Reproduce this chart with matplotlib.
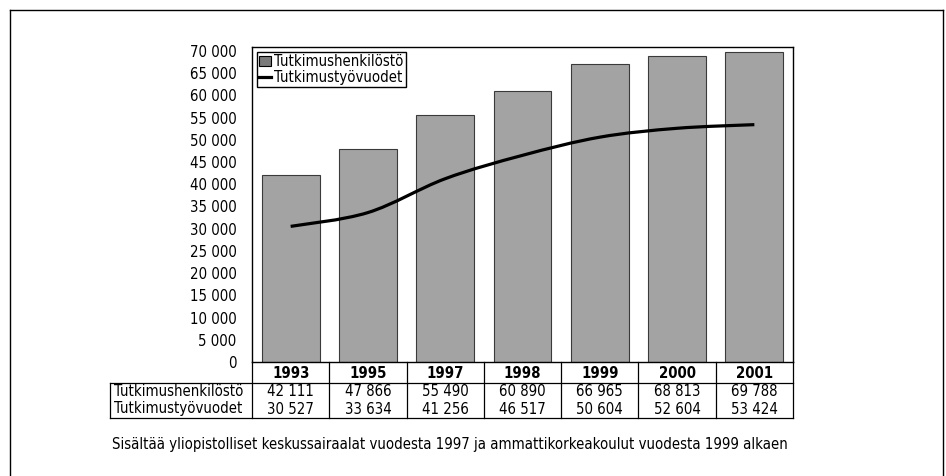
"""
Tutkimushenkilöstö ja tutkimustyövuodet 1993-2001, pylväät + käyrä + taulukko.
"""

import matplotlib
matplotlib.use("Agg")
import matplotlib.pyplot as plt
from matplotlib import font_manager
from matplotlib.path import Path
from matplotlib.patches import PathPatch, Rectangle
from matplotlib.lines import Line2D
from matplotlib.textpath import TextPath
from matplotlib.font_manager import FontProperties
import numpy as np

years = ["1993", "1995", "1997", "1998", "1999", "2000", "2001"]
henkilosto = [42111, 47866, 55490, 60890, 66965, 68813, 69788]
tyovuodet = [30527, 33634, 41256, 46517, 50604, 52604, 53424]
series_names = ["Tutkimushenkilöstö", "Tutkimustyövuodet"]
yticks = list(range(0, 70001, 5000))
footnote = ("Sisältää yliopistolliset keskussairaalat vuodesta 1997 ja "
            "ammattikorkeakoulut vuodesta 1999 alkaen")

# look for a condensed face, otherwise a narrow-ish one
family, stretch = "Liberation Sans", "normal"
for f in font_manager.fontManager.ttflist:
    nm = f.name.lower()
    if "narrow" in nm or "condensed" in nm:
        family, stretch = f.name, "normal"
        break
    if str(f.stretch) in ("condensed", "semi-condensed", "extra-condensed") \
            and f.name in ("DejaVu Sans", "Noto Sans", "Open Sans", "Roboto"):
        family, stretch = f.name, f.stretch
        break
plt.rcParams["font.family"] = [family, "DejaVu Sans"]
plt.rcParams["font.stretch"] = stretch


def width_px(s, size):
    fp = FontProperties(family=family, stretch=stretch, size=size)
    tp = TextPath((0, 0), s, prop=fp)
    return tp.get_extents().width * 100 / 72


# pick size so the row label is as wide as in the original (~128 px)
fs = min(12.5, 12 * 128 / width_px(series_names[0], 12))


def fmt(v):
    return f"{v:,}".replace(",", " ")


W, H = 946, 476
fig = plt.figure(figsize=(W / 100, H / 100), dpi=100)

# pixel geometry
left, right, top, bottom = 252, 793, 47, 362
ax = fig.add_axes([left / W, 1 - bottom / H, (right - left) / W, (bottom - top) / H])
ph = bottom - top


def ay(py):
    # figure pixel row -> axes fraction
    return (bottom - py) / ph


x = np.arange(len(years))
ax.bar(x, henkilosto, width=0.75, color="#a3a3a3", edgecolor="#3a3a3a",
       linewidth=0.8, label=series_names[0], zorder=2)

# smoothed line (Catmull-Rom as cubic bezier through the data points)
pts = np.column_stack([x, tyovuodet]).astype(float)
verts = [tuple(pts[0])]
codes = [Path.MOVETO]
for i in range(len(pts) - 1):
    p0 = pts[i - 1] if i > 0 else pts[i]
    p1, p2 = pts[i], pts[i + 1]
    p3 = pts[i + 2] if i + 2 < len(pts) else pts[i + 1]
    c1 = p1 + (p2 - p0) / 6
    c2 = p2 - (p3 - p1) / 6
    verts += [tuple(c1), tuple(c2), tuple(p2)]
    codes += [Path.CURVE4] * 3
ax.add_patch(PathPatch(Path(verts, codes), facecolor="none", edgecolor="black",
                       linewidth=2.3, zorder=3))

ax.set_xlim(-0.5, len(years) - 0.5)
ax.set_ylim(0, 70000 * (bottom - top) / (bottom - 51))
ax.set_yticks(yticks)
ax.set_yticklabels([fmt(v) for v in yticks], fontsize=fs)
ax.tick_params(axis="y", length=0, pad=11)
ax.set_xticks([])
for s in ax.spines.values():
    s.set_linewidth(1.0)

# legend
handles = [Rectangle((0, 0), 1, 1, facecolor="#7a7a7a", edgecolor="black", linewidth=0.8),
           Line2D([0], [0], color="black", linewidth=2.3)]
ax.legend(handles, series_names, loc="upper left",
          bbox_to_anchor=(257 / W, 1 - 52 / H), bbox_transform=fig.transFigure,
          fontsize=fs, frameon=True, fancybox=False, edgecolor="black",
          framealpha=1, borderaxespad=0, borderpad=0.15, handlelength=0.8,
          handleheight=0.6, handletextpad=0.2, labelspacing=0.05)

# year row and data table
yr_bot, tb_bot, tb_left = 383, 418, 110
lk = dict(color="black", linewidth=0.9, clip_on=False, zorder=5)
for k in range(len(years) + 1):
    xl = k / len(years)
    ax.plot([xl, xl], [ay(bottom), ay(tb_bot)], transform=ax.transAxes, **lk)
tx = lambda px: (px - left) / (right - left)
ax.plot([tx(tb_left), 1], [ay(yr_bot), ay(yr_bot)], transform=ax.transAxes, **lk)
ax.plot([tx(tb_left), 1], [ay(tb_bot), ay(tb_bot)], transform=ax.transAxes, **lk)
ax.plot([tx(tb_left), tx(tb_left)], [ay(yr_bot), ay(tb_bot)], transform=ax.transAxes, **lk)

for i, yv in enumerate(years):
    xc = (i + 0.5) / len(years)
    ax.text(xc, ay(373), yv, transform=ax.transAxes, ha="center", va="center",
            fontsize=fs, fontweight="bold")
    ax.text(xc, ay(392), fmt(henkilosto[i]), transform=ax.transAxes,
            ha="center", va="center", fontsize=fs)
    ax.text(xc, ay(409), fmt(tyovuodet[i]), transform=ax.transAxes,
            ha="center", va="center", fontsize=fs)
for j, name in enumerate(series_names):
    ax.text(tx(114), ay(392 + 17 * j), name, transform=ax.transAxes,
            ha="left", va="center", fontsize=fs)

fig.text(112 / W, 1 - 445 / H, footnote, ha="left", va="center", fontsize=fs)

# outer frame (open at the bottom)
fk = dict(color="black", linewidth=1.0, transform=fig.transFigure)
fig.add_artist(Line2D([10 / W, 10 / W], [0, 1 - 10 / H], **fk))
fig.add_artist(Line2D([943 / W, 943 / W], [0, 1 - 10 / H], **fk))
fig.add_artist(Line2D([10 / W, 943 / W], [1 - 10 / H, 1 - 10 / H], **fk))

fig.savefig("out.png", dpi=100)
